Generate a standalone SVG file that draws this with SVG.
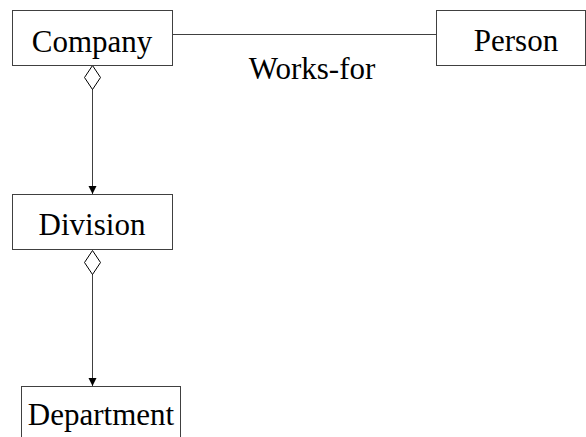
<svg xmlns="http://www.w3.org/2000/svg" width="586" height="437" viewBox="0 0 586 437">
  <style>
    .box { fill: #ffffff; stroke: #404040; stroke-width: 1; }
    .edge { fill: none; stroke: #404040; stroke-width: 1; }
    .diamond { fill: #ffffff; stroke: #000000; stroke-width: 1; }
  </style>
  <defs>
    <marker id="arrow" markerWidth="8" markerHeight="9" refX="8" refY="4.5" orient="auto" markerUnits="userSpaceOnUse">
      <path d="M0,0.5 L8,4.5 L0,8.5 Z" fill="#000000"/>
    </marker>
  </defs>

  <g id="connectors">
    <!-- association Company to Person -->
    <line class="edge" x1="172.5" y1="34.5" x2="436.5" y2="34.5"/>
    <text x="312" y="79" text-anchor="middle" font-family="Liberation Serif, serif" font-size="31" fill="#000000">Works-for</text>
    <!-- aggregation: Company owns Division -->
    <line class="edge" x1="92.5" y1="89" x2="92.5" y2="194" marker-end="url(#arrow)"/>
    <path class="diamond" d="M92.5,65.5 L100.5,77.5 L92.5,89.5 L84.5,77.5 Z"/>
    <!-- aggregation: Division owns Department -->
    <line class="edge" x1="92.5" y1="274" x2="92.5" y2="386" marker-end="url(#arrow)"/>
    <path class="diamond" d="M92.5,250.5 L100.5,262.5 L92.5,274.5 L84.5,262.5 Z"/>
  </g>

  <g id="company">
    <rect class="box" x="12.5" y="10.5" width="160" height="55"/>
    <text x="92" y="52" text-anchor="middle" font-family="Liberation Serif, serif" font-size="31" fill="#000000">Company</text>
  </g>

  <g id="person">
    <rect class="box" x="436.5" y="10.5" width="149" height="55"/>
    <text x="516" y="51" text-anchor="middle" font-family="Liberation Serif, serif" font-size="31" fill="#000000">Person</text>
  </g>

  <g id="division">
    <rect class="box" x="12.5" y="194.5" width="160" height="55"/>
    <text x="92" y="235" text-anchor="middle" font-family="Liberation Serif, serif" font-size="31" fill="#000000">Division</text>
  </g>

  <g id="department">
    <rect class="box" x="21.5" y="386.5" width="159" height="70"/>
    <text x="101" y="425" text-anchor="middle" font-family="Liberation Serif, serif" font-size="31" fill="#000000">Department</text>
  </g>
</svg>
